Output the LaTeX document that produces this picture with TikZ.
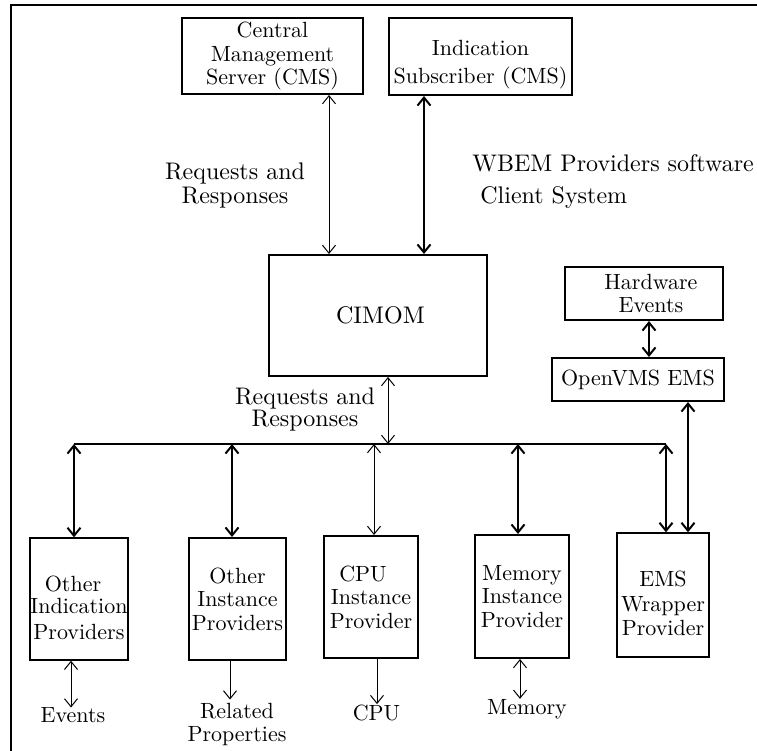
\documentclass[tikz,border=0pt]{standalone}
\usepackage{fontspec}
\setmainfont{lmroman10-regular.otf}
\usetikzlibrary{arrows.meta}
\begin{document}
\begin{tikzpicture}[x=0.5pt,y=-0.5pt,
  >={Straight Barb[length=4pt,width=6.5pt]},
  box/.style={draw, line width=1pt, inner sep=0pt, align=center, font=\fontsize{11}{11.8}\selectfont},
  lightbox/.style={box, line width=0.7pt},
  sz/.style 2 args={minimum width=#1*0.5pt, minimum height=#2*0.5pt},
  lbl/.style={inner sep=0pt, align=center, font=\fontsize{12}{11.9}\selectfont},
  small/.style={inner sep=0pt, align=center, font=\fontsize{11}{11.8}\selectfont},
  thinline/.style={line width=0.5pt},
  thickline/.style={line width=1pt}]
\useasboundingbox (0,0) rectangle (757,751);
% frame
\draw[line width=0.65pt] (757,5) -- (11,5) -- (11,751);

% top boxes
\node[box, sz={181}{76}] (cms) at (272.5,56) {Central\\Management\\Server (CMS)};
\node[box, sz={183}{77}] (ind) at (480.5,56.5) {\rule{0pt}{15.5pt}Indication\\[2.2pt]Subscriber (CMS)};
\node[box, sz={218}{121}, font=\fontsize{12}{14}\selectfont] (cimom) at (378,315.5) {\hspace*{2.5pt}CIMOM};
\node[box, sz={158}{53}] (hw) at (644,293.5) {\hspace*{7pt}Hardware\\\hspace*{7pt}Events};
\node[box, sz={172}{43}] (ovms) at (638,379.5) {OpenVMS EMS};

% bottom boxes
\node[lightbox, sz={98}{122}] (oip) at (79,599) {\rule{0pt}{17pt}Other\hspace*{6pt}\\[-1.2pt]Indication\\[1.5pt]Providers};
\node[box, sz={97}{122}] (oinst) at (237.5,599) {Other\\Instance\\Providers};
\node[box, sz={94}{122}] (cpu) at (371,597) {CPU\hspace*{8pt}\\Instance\\Provider};
\node[box, sz={94}{123}] (mem) at (522,596.5) {Memory\\Instance\\Provider};
\node[lightbox, sz={92}{124}] (ems) at (663,595) {\rule{0pt}{16pt}EMS\\[0.7pt]Wrapper\\Provider};

% labels
\node[lbl] (rr1) at (235,185.5) {Requests and\\Responses};
\node[lbl, font=\fontsize{12}{10.9}\selectfont] (rr2) at (305,409.5) {Requests and\\Responses};
\node[lbl, anchor=north west, align=left] (wbem) at (472,154) {WBEM Providers software\\[4.1pt]\hspace*{4pt}Client System};
\node[small] (ev) at (73,715.5) {Events};
\node[small] (rp) at (237,724.5) {Related\\Properties};
\node[small] (cpul) at (376.5,712.5) {CPU};
\node[small] (meml) at (527,709) {Memory};

% coordinates
\coordinate (xa) at (329,0);
\coordinate (xb) at (424,0);
\coordinate (xc) at (649,0);
\coordinate (xd) at (388,0);
\coordinate (xe) at (688,0);
\coordinate (b1) at (74,444);
\coordinate (b2) at (232,444);
\coordinate (b3) at (374,444);
\coordinate (b4) at (518,444);
\coordinate (b5) at (666,444);
\coordinate (xev) at (71,0);
\coordinate (xrp) at (230,0);
\coordinate (xcpu) at (377,0);
\coordinate (xmem) at (520,0);

% connectors
\draw[thinline,<->] (cms.south -| xa) -- (cimom.north -| xa);
\draw[thickline,<->] (ind.south -| xb) -- (cimom.north -| xb);
\draw[thickline,<->] (hw.south -| xc) -- (ovms.north -| xc);
\draw[thinline,<->] (cimom.south -| xd) -- (b1 -| xd);
\draw[thickline] (b1) -- (b5);
\draw[thickline,<->] (b1) -- (oip.north -| b1);
\draw[thickline,<->] (b2) -- (oinst.north -| b2);
\draw[thinline,<->] (b3) -- (cpu.north -| b3);
\draw[thickline,<->] (b4) -- (mem.north -| b4);
\draw[thickline,<->] (b5) -- (ems.north -| b5);
\draw[thickline,<->] (ovms.south -| xe) -- (ems.north -| xe);
\draw[thinline,<->] (oip.south -| xev) -- (ev.north -| xev);
\draw[thinline,->,shorten >=1.5pt] (oinst.south -| xrp) -- (rp.north -| xrp);
\draw[thinline,->] (cpu.south -| xcpu) -- (cpul.north -| xcpu);
\draw[thinline,<->] (mem.south -| xmem) -- (meml.north -| xmem);
\end{tikzpicture}
\end{document}
